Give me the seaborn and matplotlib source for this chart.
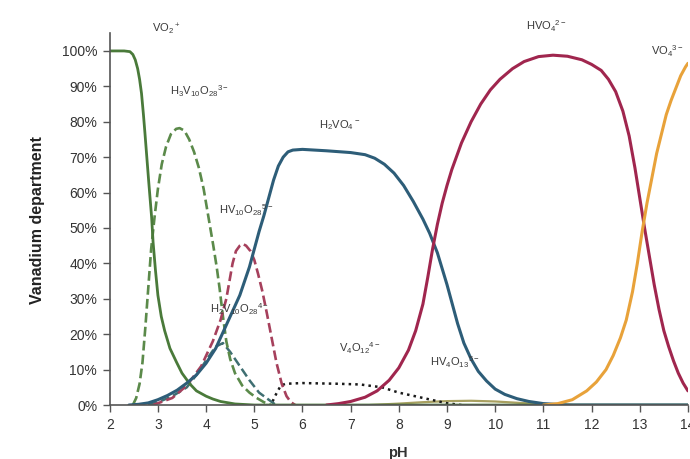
import matplotlib
matplotlib.use("Agg")
import matplotlib.pyplot as plt
import seaborn as sns
import pandas as pd

# ---- data (pH, fraction) ----
vo2_ph = [2.0, 2.3, 2.42, 2.48, 2.53, 2.58, 2.62, 2.66, 2.7, 2.73, 2.77, 2.81, 2.87, 2.9, 2.95, 3.0, 3.07, 3.14, 3.25, 3.39, 3.5, 3.66, 3.8, 4.0, 4.14, 4.3, 4.6, 5.0, 14.0]
vo2_y = [1.0, 1.0, 0.998, 0.99, 0.975, 0.95, 0.92, 0.88, 0.82, 0.77, 0.70, 0.63, 0.53, 0.46, 0.38, 0.31, 0.25, 0.21, 0.16, 0.12, 0.09, 0.06, 0.04, 0.025, 0.017, 0.01, 0.003, 0.0, 0.0]

h3v10_ph = [2.48, 2.55, 2.62, 2.68, 2.74, 2.8, 2.86, 2.93, 3.0, 3.08, 3.17, 3.27, 3.38, 3.45, 3.55, 3.65, 3.75, 3.85, 3.95, 4.05, 4.15, 4.22, 4.28, 4.35, 4.42, 4.5, 4.6, 4.75, 4.9, 5.05, 5.2, 5.35]
h3v10_y = [0.0, 0.02, 0.06, 0.12, 0.22, 0.33, 0.44, 0.53, 0.61, 0.68, 0.73, 0.765, 0.78, 0.782, 0.775, 0.75, 0.715, 0.67, 0.61, 0.53, 0.45, 0.39, 0.33, 0.25, 0.18, 0.13, 0.09, 0.055, 0.035, 0.02, 0.008, 0.0]

hv10_ph = [2.9, 3.0, 3.3, 3.6, 3.9, 4.14, 4.3, 4.42, 4.55, 4.62, 4.7, 4.76, 4.83, 4.92, 5.0, 5.08, 5.17, 5.26, 5.36, 5.46, 5.57, 5.67, 5.76, 5.85]
hv10_y = [0.0, 0.005, 0.02, 0.055, 0.11, 0.18, 0.24, 0.30, 0.40, 0.435, 0.45, 0.455, 0.45, 0.435, 0.41, 0.37, 0.32, 0.26, 0.19, 0.12, 0.06, 0.025, 0.008, 0.0]

h2v10_ph = [2.8, 3.04, 3.3, 3.6, 3.8, 4.07, 4.2, 4.35, 4.5, 4.7, 4.9, 5.1, 5.3, 5.45]
h2v10_y = [0.0, 0.01, 0.025, 0.05, 0.085, 0.14, 0.165, 0.175, 0.15, 0.11, 0.07, 0.035, 0.015, 0.0]

h2vo4_ph = [2.4, 2.6, 2.8, 3.0, 3.2, 3.4, 3.6, 3.8, 4.0, 4.2, 4.4, 4.5, 4.6, 4.7, 4.8, 4.9, 5.0, 5.1, 5.2, 5.3, 5.4, 5.5, 5.6, 5.7, 5.8, 6.0, 6.5, 7.0, 7.3, 7.5, 7.7, 7.9, 8.1, 8.3, 8.5, 8.64, 8.8, 9.0, 9.1, 9.22, 9.35, 9.5, 9.65, 9.82, 10.0, 10.2, 10.45, 10.7, 11.0, 11.5, 14.0]
h2vo4_y = [0.0, 0.002, 0.006, 0.015, 0.027, 0.042, 0.062, 0.085, 0.118, 0.16, 0.22, 0.25, 0.28, 0.31, 0.35, 0.39, 0.44, 0.49, 0.535, 0.585, 0.635, 0.675, 0.70, 0.715, 0.72, 0.722, 0.718, 0.713, 0.707, 0.697, 0.68, 0.655, 0.62, 0.575, 0.525, 0.485, 0.43, 0.34, 0.29, 0.23, 0.175, 0.13, 0.095, 0.068, 0.045, 0.03, 0.018, 0.01, 0.004, 0.0, 0.0]

hvo4_ph = [6.5, 6.75, 7.0, 7.3, 7.55, 7.8, 8.0, 8.2, 8.35, 8.5, 8.6, 8.7, 8.8, 8.9, 9.0, 9.1, 9.3, 9.5, 9.7, 9.9, 10.1, 10.36, 10.6, 10.9, 11.2, 11.5, 11.8, 12.0, 12.2, 12.35, 12.5, 12.65, 12.78, 12.9, 13.0, 13.1, 13.2, 13.3, 13.4, 13.5, 13.6, 13.7, 13.8, 13.9, 14.0]
hvo4_y = [0.0, 0.004, 0.01, 0.022, 0.04, 0.07, 0.105, 0.155, 0.21, 0.285, 0.36, 0.44, 0.51, 0.57, 0.62, 0.665, 0.74, 0.80, 0.85, 0.89, 0.92, 0.95, 0.97, 0.984, 0.988, 0.985, 0.975, 0.962, 0.945, 0.92, 0.885, 0.83, 0.76, 0.67, 0.585, 0.50, 0.42, 0.34, 0.27, 0.21, 0.165, 0.125, 0.09, 0.062, 0.04]

vo4_ph = [11.0, 11.3, 11.6, 11.9, 12.1, 12.3, 12.45, 12.6, 12.72, 12.85, 12.95, 13.05, 13.15, 13.25, 13.35, 13.45, 13.55, 13.65, 13.75, 13.85, 13.95, 14.0]
vo4_y = [0.0, 0.004, 0.015, 0.04, 0.065, 0.10, 0.14, 0.19, 0.24, 0.32, 0.40, 0.49, 0.57, 0.64, 0.71, 0.765, 0.82, 0.86, 0.895, 0.93, 0.955, 0.965]

v4o12_ph = [5.38, 5.45, 5.55, 5.65, 6.0, 6.75, 7.2, 7.65, 8.0, 8.5, 9.0, 9.3]
v4o12_y = [0.01, 0.03, 0.055, 0.06, 0.062, 0.06, 0.058, 0.05, 0.035, 0.02, 0.005, 0.0]

hv4o13_ph = [7.4, 8.0, 8.5, 9.0, 9.5, 10.0, 10.5, 11.0, 11.6]
hv4o13_y = [0.0, 0.004, 0.008, 0.011, 0.012, 0.01, 0.006, 0.003, 0.0]

y_ticks = [0.0, 0.1, 0.2, 0.3, 0.4, 0.5, 0.6, 0.7, 0.8, 0.9, 1.0]
y_tick_labels = ["0%", "10%", "20%", "30%", "40%", "50%", "60%", "70%", "80%", "90%", "100%"]
x_ticks = [2, 3, 4, 5, 6, 7, 8, 9, 10, 11, 12, 13, 14]

labels = [
    (r"VO$_2$$^+$", 3.18, 1.06),
    (r"H$_3$V$_{10}$O$_{28}$$^{3-}$", 3.87, 0.887),
    (r"H$_2$VO$_4$$^-$", 6.77, 0.79),
    (r"HVO$_4$$^{2-}$", 11.07, 1.07),
    (r"VO$_4$$^{3-}$", 13.58, 1.0),
    (r"HV$_{10}$O$_{28}$$^{5-}$", 4.84, 0.55),
    (r"H$_2$V$_{10}$O$_{28}$$^{4-}$", 4.7, 0.27),
    (r"V$_4$O$_{12}$$^{4-}$", 7.19, 0.16),
    (r"HV$_4$O$_{13}$$^{5-}$", 9.16, 0.12),
]

series = [
    (hv4o13_ph, hv4o13_y, "#a8a060", "-", 1.6),
    (v4o12_ph, v4o12_y, "#1a1a1a", ":", 1.8),
    (h2v10_ph, h2v10_y, "#3f6f72", "--", 1.8),
    (h3v10_ph, h3v10_y, "#5b8a4a", "--", 1.9),
    (hv10_ph, hv10_y, "#a6405c", "--", 1.9),
    (vo2_ph, vo2_y, "#4a7a3a", "-", 2.0),
    (h2vo4_ph, h2vo4_y, "#2d5d78", "-", 2.2),
    (hvo4_ph, hvo4_y, "#a0264e", "-", 2.2),
    (vo4_ph, vo4_y, "#e8a23a", "-", 2.2),
]

sns.set_theme(style="white")
plt.rcParams["font.family"] = ["Liberation Sans", "DejaVu Sans"]
plt.rcParams["mathtext.default"] = "regular"

fig = plt.figure(figsize=(6.9, 4.59), dpi=100)
ax = fig.add_axes([0.159, 0.1176, 0.838, 0.81])

for xs, ys, col, ls, lw in series:
    df = pd.DataFrame({"pH": xs, "frac": ys})
    sns.lineplot(data=df, x="pH", y="frac", ax=ax, color=col, linewidth=lw,
                 linestyle=ls, sort=False, estimator=None)

ax.set_xlim(2, 14)
ax.set_ylim(0, 1.05)
ax.set_xticks(x_ticks)
ax.set_yticks(y_ticks)
ax.set_yticklabels(y_tick_labels)
ax.tick_params(axis="both", which="major", direction="out", length=5, width=1,
               color="#555555", labelsize=10, labelcolor="#333333", pad=4,
               bottom=True, left=True)
for s in ["top", "right"]:
    ax.spines[s].set_visible(False)
for s in ["left", "bottom"]:
    ax.spines[s].set_color("#555555")
    ax.spines[s].set_linewidth(1.2)

ax.set_xlabel("pH", fontsize=10.5, fontweight="bold", color="#333333")
ax.set_ylabel("Vanadium department", fontsize=11.5, fontweight="bold", color="#222222")
ax.yaxis.set_label_coords(-0.112, 0.497)
ax.xaxis.set_label_coords(0.498, -0.11)

for txt, x, y in labels:
    ax.text(x, y, txt, ha="center", va="center", fontsize=8, color="#3a3a3a", clip_on=False)

fig.savefig("out.png", dpi=100)
